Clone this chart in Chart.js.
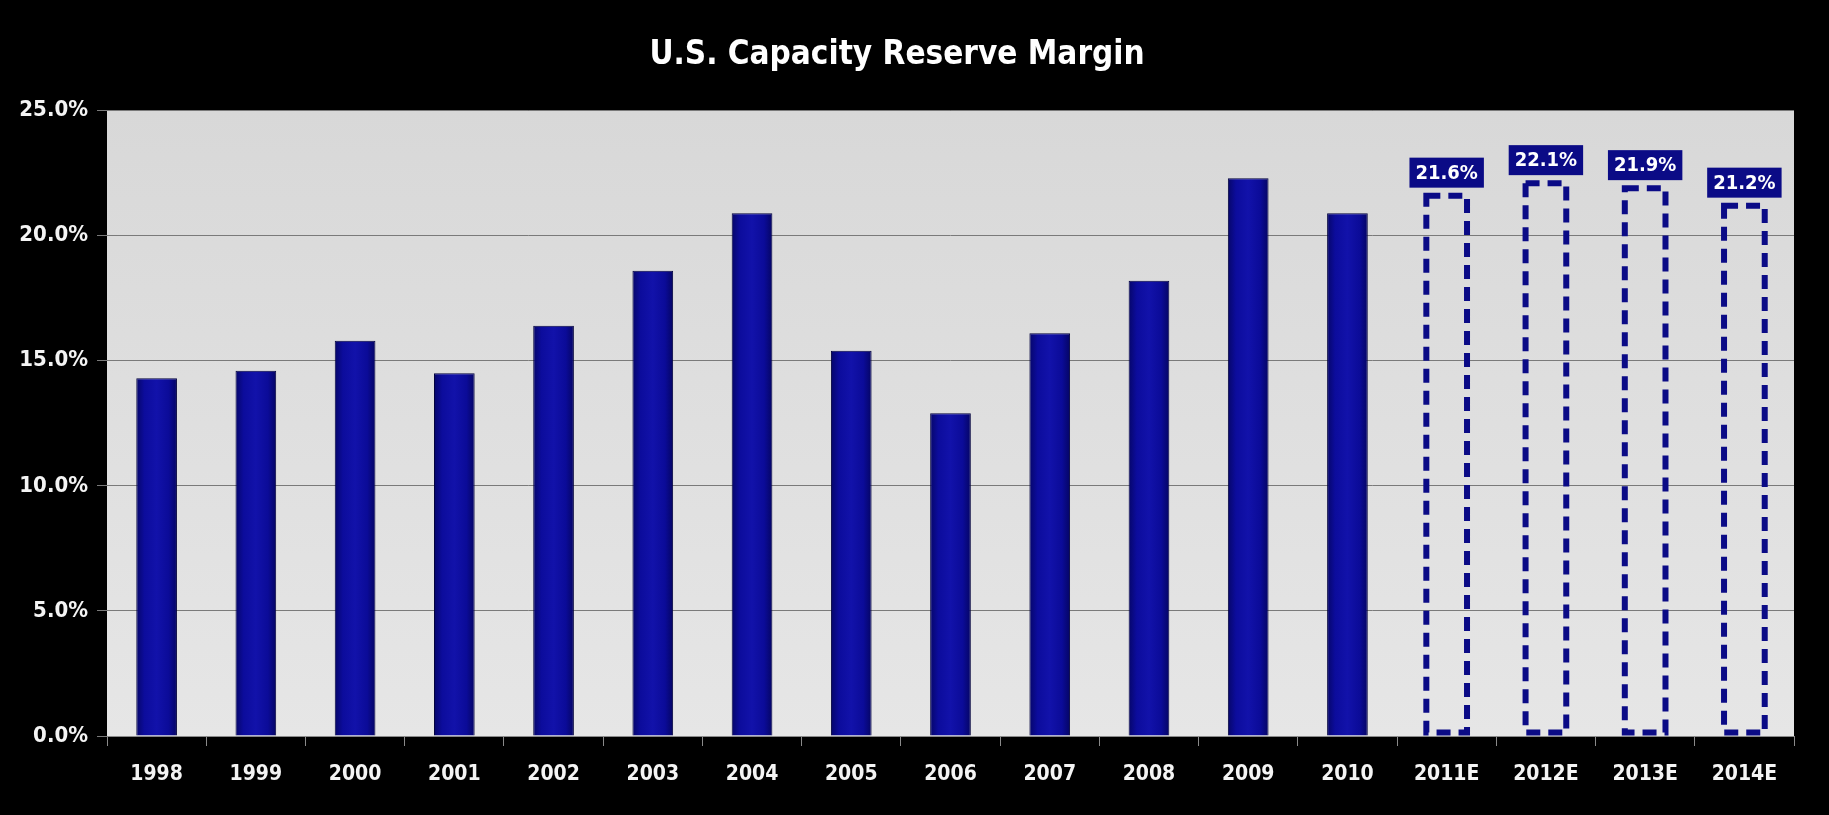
<!DOCTYPE html>
<html>
<head>
<meta charset="utf-8">
<title>U.S. Capacity Reserve Margin</title>
<script src="https://cdn.jsdelivr.net/npm/chart.js@4"></script>
<style>
  html, body { margin: 0; padding: 0; background: #000; }
  canvas { display: block; }
</style>
</head>
<body>
<canvas id="marginChart" width="1829" height="815"></canvas>
<script>
const years = ["1998", "1999", "2000", "2001", "2002", "2003", "2004", "2005", "2006",
  "2007", "2008", "2009", "2010", "2011E", "2012E", "2013E", "2014E"];
const actualMargin = [14.3, 14.6, 15.8, 14.5, 16.4, 18.6, 20.9, 15.4, 12.9,
  16.1, 18.2, 22.3, 20.9, null, null, null, null];
const estimatedMargin = [null, null, null, null, null, null, null, null, null,
  null, null, null, null, 21.6, 22.1, 21.9, 21.2];
const yTicks = [0, 5, 10, 15, 20, 25];

const FONT = '"DejaVu Sans Condensed", "Liberation Sans Narrow", sans-serif';
const NAVY = "#0b0b86";

// gray plot panel behind the bars
const panelBackground = {
  id: "panelBackground",
  beforeDraw(chart) {
    const { ctx, chartArea: a } = chart;
    ctx.save();
    ctx.fillStyle = "#000";
    ctx.fillRect(0, 0, chart.width, chart.height);
    const g = ctx.createLinearGradient(0, a.top, 0, a.bottom);
    g.addColorStop(0, "#d8d8d8");
    g.addColorStop(1, "#e6e6e6");
    ctx.fillStyle = g;
    ctx.fillRect(a.left, a.top, a.right - a.left, a.bottom - a.top);
    ctx.restore();
  }
};

// dashed outlines + value boxes for the estimate years
const estimateBars = {
  id: "estimateBars",
  afterDatasetsDraw(chart) {
    const { ctx } = chart;
    const meta = chart.getDatasetMeta(1);
    ctx.save();
    meta.data.forEach((bar, i) => {
      const v = estimatedMargin[i];
      if (v == null) return;
      const lw = 6;
      ctx.setLineDash([14, 8]);
      ctx.lineWidth = lw;
      ctx.strokeStyle = NAVY;
      ctx.strokeRect(bar.x - bar.width / 2, bar.y, bar.width, bar.base - bar.y - lw / 2);

      ctx.setLineDash([]);
      const text = v.toFixed(1) + "%";
      ctx.font = "bold 20px " + FONT;
      const tw = ctx.measureText(text).width;
      const bw = tw + 12, bh = 30;
      const by = bar.y - lw / 2 - 5 - bh;
      ctx.fillStyle = NAVY;
      ctx.fillRect(bar.x - bw / 2, by, bw, bh);
      ctx.fillStyle = "#fff";
      ctx.textAlign = "center";
      ctx.textBaseline = "middle";
      ctx.fillText(text, bar.x, by + bh / 2 + 1);
    });
    ctx.restore();
  }
};

function barGradient(context) {
  const chart = context.chart;
  const x = chart.scales.x;
  if (!x || !chart.chartArea) return NAVY;
  const cx = x.getPixelForValue(context.dataIndex);
  const half = x.width / years.length * 0.41 / 2;
  const g = chart.ctx.createLinearGradient(cx - half, 0, cx + half, 0);
  g.addColorStop(0, "#06066a");
  g.addColorStop(0.2, "#0c0c9c");
  g.addColorStop(0.5, "#1212aa");
  g.addColorStop(0.8, "#0b0b98");
  g.addColorStop(1, "#050564");
  return g;
}

new Chart(document.getElementById("marginChart"), {
  type: "bar",
  data: {
    labels: years,
    datasets: [{
      label: "Reserve margin",
      data: actualMargin,
      backgroundColor: barGradient,
      borderColor: "#03033f",
      borderWidth: 1,
      grouped: false,
      categoryPercentage: 1,
      barPercentage: 0.41
    }, {
      label: "Estimated reserve margin",
      data: estimatedMargin,
      backgroundColor: "rgba(0,0,0,0)",
      borderWidth: 0,
      grouped: false,
      categoryPercentage: 1,
      barPercentage: 0.41
    }]
  },
  options: {
    responsive: false,
    animation: false,
    layout: { padding: { left: 0, right: 35, top: 0, bottom: 0 } },
    plugins: {
      legend: { display: false },
      tooltip: { enabled: false },
      title: {
        display: true,
        text: "U.S. Capacity Reserve Margin",
        color: "#fff",
        font: { family: FONT, size: 33, weight: "bold", lineHeight: 1.2 },
        padding: { top: 36, bottom: 35 }
      }
    },
    scales: {
      x: {
        offset: true,
        grid: {
          offset: true,
          drawOnChartArea: false,
          tickLength: 10,
          color: "#8a8a8a"
        },
        border: { color: "#8a8a8a", width: 1 },
        ticks: {
          color: "#f4f4f4",
          padding: 16,
          maxRotation: 0,
          font: { family: FONT, size: 21, weight: "bold" }
        },
        afterFit(scale) { scale.height = 79; }
      },
      y: {
        min: 0,
        max: 25,
        afterBuildTicks(scale) { scale.ticks = yTicks.map(v => ({ value: v })); },
        grid: { color: "#7a7a7a", tickLength: 10, lineWidth: 1 },
        border: { display: false },
        ticks: {
          color: "#f4f4f4",
          padding: 9,
          font: { family: FONT, size: 22, weight: "bold" },
          callback: v => v.toFixed(1) + "%"
        },
        afterFit(scale) { scale.width = 107; }
      }
    }
  },
  plugins: [panelBackground, estimateBars]
});
</script>
</body>
</html>
